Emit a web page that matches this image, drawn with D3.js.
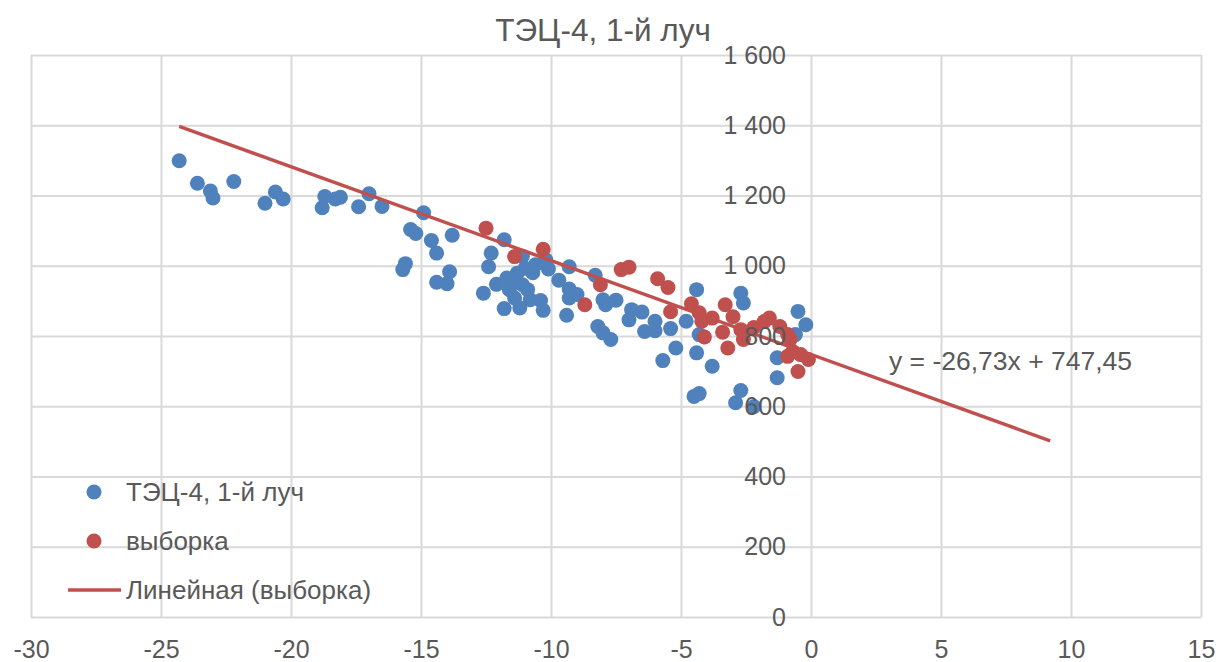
<!DOCTYPE html>
<html>
<head>
<meta charset="utf-8">
<script src="https://cdn.jsdelivr.net/npm/d3@7"></script>
<style>
  body { margin: 0; background: #fff; }
  svg text { font-family: "Liberation Sans", Arial, sans-serif; fill: #595959; }
</style>
</head>
<body>
<script>
// data
var blueX = [-24.3, -23.6, -23.1, -23.0, -22.2, -21.0, -20.6, -20.3, -18.7, -18.8,
  -18.3, -18.1, -17.4, -17.0, -16.5, -14.9, -15.4, -15.2, -14.6, -14.4,
  -13.8, -15.6, -15.7, -13.9, -14.4, -14.0, -11.8, -12.3, -12.4, -11.1,
  -10.6, -10.2, -10.1, -9.3, -12.6, -12.1, -11.7, -11.3, -11.0, -11.1,
  -11.6, -10.9, -11.4, -10.8, -10.4, -11.8, -11.2, -10.3, -9.7, -9.3,
  -9.3, -9.4, -9.0, -8.3, -8.0, -7.9, -7.5, -8.2, -8.0, -7.7,
  -6.9, -7.0, -6.5, -6.0, -6.4, -6.0, -5.4, -4.4, -4.8, -5.2,
  -5.7, -4.4, -4.3, -2.7, -2.6, -4.5, -4.3, -3.8, -2.7, -2.9,
  -2.2, -0.5, -0.2, -0.6, -1.3, -1.3, -10.7, -11.4];
var blueY = [1299, 1235, 1213, 1193, 1240, 1178, 1210, 1190, 1197, 1165,
  1190, 1195, 1168, 1205, 1169, 1151, 1103, 1092, 1072, 1036,
  1087, 1006, 989, 983, 953, 949, 1074, 1036, 997, 1027,
  1003, 1017, 991, 997, 922, 947, 965, 979, 993, 946,
  932, 932, 908, 903, 901, 878, 880, 873, 959, 934,
  908, 859, 918, 973, 903, 889, 902, 827, 809, 790,
  875, 846, 868, 842, 813, 815, 821, 932, 842, 766,
  730, 752, 804, 922, 894, 628, 636, 714, 645, 610,
  599, 870, 832, 804, 738, 681, 980, 955];

var redX = [-12.5, -11.4, -10.3, -8.7, -8.1, -7.3, -7.0, -5.9, -5.5, -5.4,
  -4.6, -4.3, -4.2, -4.1, -3.8, -3.3, -3.0, -3.4, -3.2, -2.7,
  -2.6, -1.6, -1.2, -0.8, -0.9, -0.7, -0.4, -0.1, -0.5, -2.2,
  -1.8, -0.9];
var redY = [1107, 1026, 1047, 889, 946, 989, 996, 963, 938, 869,
  892, 866, 842, 797, 851, 889, 855, 811, 766, 818,
  790, 851, 827, 790, 742, 756, 747, 733, 699, 824,
  841, 804];

var xTicks = [-30, -25, -20, -15, -10, -5, 0, 5, 10, 15];
var yTicks = [0, 200, 400, 600, 800, 1000, 1200, 1400, 1600];

var slope = -26.73;
var intercept = 747.45;
var trendFrom = -24.3;
var trendTo = 9.2;

var title = "ТЭЦ-4, 1-й луч";
var seriesNames = ["ТЭЦ-4, 1-й луч", "выборка", "Линейная (выборка)"];
var equation = "y = -26,73x + 747,45";

var blue = "#4f81bd";
var red = "#c0504d";

var width = 1219;
var height = 662;

var locale = d3.formatLocale({decimal: ",", thousands: " ", grouping: [3], currency: ["", ""], minus: "-"});
var fmt = locale.format(",");

var svg = d3.select("body")
    .append("svg")
    .attr("width", width)
    .attr("height", height);

var x = d3.scaleLinear().domain([-30, 15]).range([31, 1201]);
var y = d3.scaleLinear().domain([0, 1600]).range([617, 55]);

// gridlines
svg.append("g")
    .attr("transform", "translate(0,617)")
    .call(d3.axisBottom(x).tickValues(xTicks).tickSize(-562).tickFormat(""))
    .call(function(g) { g.select(".domain").remove(); })
    .selectAll("line").attr("stroke", "#d9d9d9").attr("stroke-width", 2);
svg.append("g")
    .attr("transform", "translate(31,0)")
    .call(d3.axisLeft(y).tickValues(yTicks).tickSize(-1170).tickFormat(""))
    .call(function(g) { g.select(".domain").remove(); })
    .selectAll("line").attr("stroke", "#d9d9d9").attr("stroke-width", 2);

// points
svg.append("g").selectAll("circle")
    .data(d3.range(blueX.length))
    .enter()
    .append("circle")
    .attr("cx", function(i) { return x(blueX[i]); })
    .attr("cy", function(i) { return y(blueY[i]); })
    .attr("r", 7.5)
    .attr("fill", blue);

svg.append("g").selectAll("circle")
    .data(d3.range(redX.length))
    .enter()
    .append("circle")
    .attr("cx", function(i) { return x(redX[i]); })
    .attr("cy", function(i) { return y(redY[i]); })
    .attr("r", 7.5)
    .attr("fill", red);

// trendline
svg.append("line")
    .attr("x1", x(trendFrom))
    .attr("y1", y(slope * trendFrom + intercept))
    .attr("x2", x(trendTo))
    .attr("y2", y(slope * trendTo + intercept))
    .attr("stroke", red)
    .attr("stroke-width", 3.5);

// tick labels sit on top of the points
var xAxis = svg.append("g")
    .attr("transform", "translate(0,617)")
    .call(d3.axisBottom(x).tickValues(xTicks).tickSize(0).tickPadding(23).tickFormat(fmt));
var yAxis = svg.append("g")
    .attr("transform", "translate(" + x(0) + ",0)")
    .call(d3.axisLeft(y).tickValues(yTicks).tickSize(0).tickPadding(25).tickFormat(fmt));
[xAxis, yAxis].forEach(function(g) {
    g.select(".domain").remove();
    g.selectAll("text").attr("font-size", 25).attr("fill", "#595959");
    g.attr("font-family", null).attr("font-size", null);
});

svg.append("text")
    .attr("x", 603)
    .attr("y", 41)
    .attr("text-anchor", "middle")
    .attr("font-size", 31.5)
    .text(title);

svg.append("text")
    .attr("x", 889)
    .attr("y", 370)
    .attr("font-size", 26.5)
    .text(equation);

// legend
var legend = svg.append("g");
legend.append("circle").attr("cx", 94).attr("cy", 492).attr("r", 7.5).attr("fill", blue);
legend.append("circle").attr("cx", 94).attr("cy", 541).attr("r", 7.5).attr("fill", red);
legend.append("line")
    .attr("x1", 68).attr("x2", 121)
    .attr("y1", 590).attr("y2", 590)
    .attr("stroke", red).attr("stroke-width", 3.5);
legend.selectAll("text")
    .data(seriesNames)
    .enter()
    .append("text")
    .attr("x", 126)
    .attr("y", function(d, i) { return 501 + i * 49; })
    .attr("font-size", 26)
    .text(function(d) { return d; });
</script>
</body>
</html>
